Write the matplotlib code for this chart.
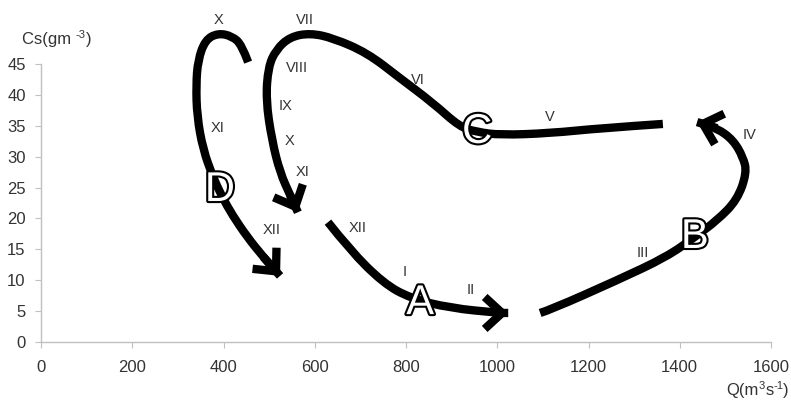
import matplotlib
matplotlib.use("Agg")
import matplotlib.pyplot as plt
import matplotlib.patheffects as pe
from matplotlib.patches import FancyArrowPatch, ArrowStyle, PathPatch
from matplotlib.path import Path

plt.rcParams['font.family'] = ['Liberation Sans', 'DejaVu Sans']

# hysteresis paths, Q (m3/s) vs Cs (g/m3)
d_q = [454, 440, 419, 388, 360, 344, 340, 342, 355, 377, 397, 419, 452, 487, 524]
d_cs = [45.3, 48.1, 49.5, 50.0, 48.9, 45.6, 41.6, 36.6, 31.2, 26.7, 23.5, 20.6, 17.0, 13.8, 10.7]

c_q = [1363, 1225, 1116, 1006, 956, 918, 859, 787, 715, 640, 590, 546, 515, 498, 493, 506, 524, 546, 563]
c_cs = [35.3, 34.6, 33.8, 33.5, 34.0, 34.8, 38.7, 42.7, 46.8, 49.2, 50.0, 49.4, 47.3, 44.5, 39.2, 32.7, 27.4, 23.8, 21.0]

a_q = [629, 677, 750, 809, 896, 1006, 1024]
a_cs = [19.4, 14.9, 9.55, 7.1, 5.5, 4.7, 4.7]

b_q = [1094, 1116, 1263, 1372, 1433, 1482, 1526, 1547, 1539, 1517, 1482, 1438]
b_cs = [4.7, 5.2, 10.0, 13.8, 17.0, 19.7, 23.0, 27.4, 29.9, 32.7, 34.6, 35.6]

# months along the paths
months = ['X', 'XI', 'XII', 'VII', 'VIII', 'IX', 'X', 'XI', 'XII', 'I', 'II', 'III', 'IV', 'V', 'VI']
month_pos = [(390, 52.1), (386, 34.6), (506, 18.1), (579, 52.1), (561, 44.4), (537, 38.2),
             (544, 32.5), (574, 27.5), (695, 18.5), (798, 11.3), (943, 8.4), (1320, 14.4),
             (1554, 33.5), (1116, 36.4), (826, 42.4)]

phases = ['A', 'B', 'C', 'D']
phase_pos = [(831, 6.3), (1433, 17.0), (956, 34.0), (392, 24.6)]


def smooth_path(q, cs):
    # quadratic bezier through midpoints, read points act as control points
    verts = [(q[0], cs[0])]
    codes = [Path.MOVETO]
    for i in range(1, len(q) - 1):
        mid = ((q[i] + q[i + 1]) / 2, (cs[i] + cs[i + 1]) / 2)
        verts += [(q[i], cs[i]), mid]
        codes += [Path.CURVE3, Path.CURVE3]
    verts.append((q[-1], cs[-1]))
    codes.append(Path.LINETO)
    return Path(verts, codes)


W, H = 791, 407
fig = plt.figure(figsize=(W / 100, H / 100), dpi=100)
ax = fig.add_axes([41 / W, 65 / H, 730 / W, 278 / H])

for q, cs in [(d_q, d_cs), (c_q, c_cs), (a_q, a_cs), (b_q, b_cs)]:
    ax.add_patch(PathPatch(smooth_path(q, cs), fill=False, edgecolor='black', lw=6,
                           capstyle='butt', joinstyle='round', clip_on=False, zorder=3))
    arr = FancyArrowPatch(posA=(q[-2], cs[-2]), posB=(q[-1], cs[-1]),
                          arrowstyle=ArrowStyle('->', head_length=1.25, head_width=1.15),
                          mutation_scale=10, lw=6, color='black', shrinkA=0, shrinkB=0,
                          joinstyle='miter', capstyle='butt', clip_on=False, zorder=3)
    ax.add_patch(arr)

for lab, (x, y) in zip(months, month_pos):
    ax.text(x, y, lab, fontsize=10.5, color='#333333', ha='center', va='center', zorder=4)

for lab, (x, y) in zip(phases, phase_pos):
    ax.text(x, y, lab, fontsize=30, color='white', ha='center', va='center', zorder=5,
            path_effects=[pe.withStroke(linewidth=3, foreground='black')])

ax.set_xlim(0, 1600)
ax.set_ylim(0, 45)
ax.set_xticks(range(0, 1601, 200))
ax.set_yticks(range(0, 46, 5))
for s in ['top', 'right']:
    ax.spines[s].set_visible(False)
for s in ['left', 'bottom']:
    ax.spines[s].set_color('#c0c0c0')
    ax.spines[s].set_linewidth(1)
ax.tick_params(axis='both', direction='out', length=4, color='#c0c0c0', labelsize=12,
               labelcolor='#333333')
ax.tick_params(axis='x', pad=9)
ax.tick_params(axis='y', pad=7)

# axis labels built from pieces so superscripts stay small with a short hyphen
renderer = fig.canvas.get_renderer()


def piece_label(pieces, x, baseline, align='left'):
    widths = []
    for txt, size, rise in pieces:
        tmp = fig.text(0, 0, txt, fontsize=size)
        widths.append(tmp.get_window_extent(renderer).width)
        tmp.remove()
    if align == 'right':
        x = x - sum(widths)
    for (txt, size, rise), w in zip(pieces, widths):
        fig.text(x / W, 1 - (baseline - rise) / H, txt, fontsize=size, color='#333333',
                 ha='left', va='baseline')
        x += w


piece_label([('Cs(gm ', 12, 0), ('-3', 8, 6), (')', 12, 0)], 22, 44)
piece_label([('Q(m', 12, 0), ('3', 8, 6), ('s', 12, 0), ('-1', 8, 6), (')', 12, 0)], 789, 395,
            align='right')

fig.savefig('out.png', dpi=100)
